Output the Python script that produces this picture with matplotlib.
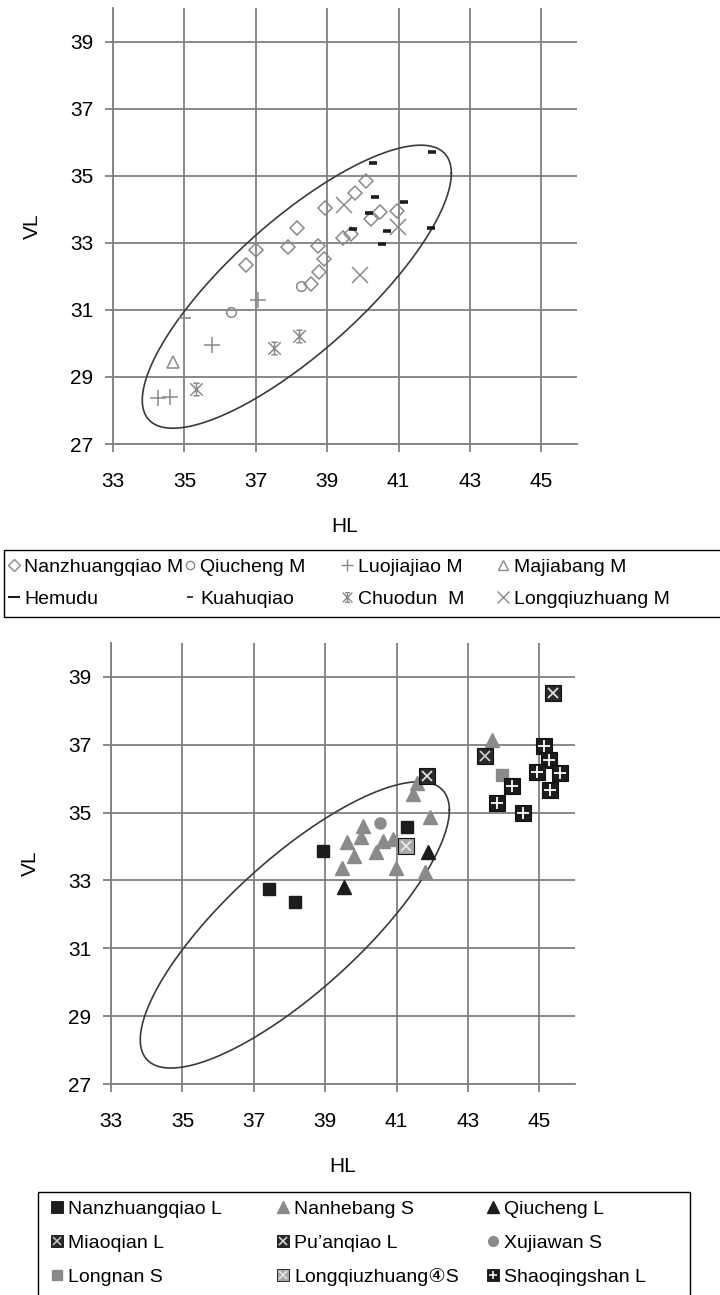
import numpy as np
import matplotlib
matplotlib.use('Agg')
import matplotlib.pyplot as plt
from matplotlib.lines import Line2D
from matplotlib.path import Path
from matplotlib.patches import Rectangle

plt.rcParams['font.family'] = ['Liberation Sans', 'DejaVu Sans']

# ellipse drawn in both panels: centre, half ranges (x, y), phase between x and y (deg)
ell_center = (38.15, 31.69)
ell_half = (4.33, 4.22)
ell_phase = 36.7

# ---- top panel (M) ----
nzq_m_x = [36.74, 37.0, 38.15, 37.91, 38.94, 38.73, 38.9, 38.77, 38.55, 40.09, 39.78, 40.48, 40.96, 40.23, 39.68, 39.43]
nzq_m_y = [32.34, 32.78, 33.43, 32.88, 34.03, 32.9, 32.53, 32.14, 31.77, 34.85, 34.47, 33.92, 33.95, 33.7, 33.26, 33.13]
qc_m_x = [38.27, 36.32]
qc_m_y = [31.72, 30.94]
ljj_m_x = [37.07, 35.76, 34.27, 34.6]
ljj_m_y = [31.29, 29.95, 28.36, 28.41]
mjb_m_x = [34.69]
mjb_m_y = [29.45]
hmd_x = [40.29, 41.95, 40.34, 41.16, 40.18, 39.73, 40.68, 40.55, 41.91]
hmd_y = [35.37, 35.7, 34.37, 34.22, 33.9, 33.4, 33.35, 32.95, 33.43]
khq_x = [35.02]
khq_y = [30.75]
cd_m_x = [37.52, 38.22, 35.32]
cd_m_y = [29.85, 30.22, 28.63]
lqz_m_x = [39.48, 40.99, 39.92]
lqz_m_y = [34.12, 33.46, 32.04]

# ---- bottom panel (L / S) ----
nzq_l_x = [41.3, 38.93, 37.43, 38.15]
nzq_l_y = [34.57, 33.88, 32.74, 32.36]
nhb_s_x = [43.67, 41.56, 41.45, 41.95, 40.05, 40.0, 39.6, 40.61, 40.91, 39.8, 40.42, 39.46, 40.98, 41.8]
nhb_s_y = [37.15, 35.87, 35.55, 34.86, 34.61, 34.28, 34.13, 34.17, 34.22, 33.73, 33.84, 33.37, 33.37, 33.26]
qc_l_x = [41.89, 39.52]
qc_l_y = [33.85, 32.8]
mq_l_x = [43.48]
mq_l_y = [36.66]
paq_l_x = [41.84, 45.38]
paq_l_y = [36.07, 38.52]
xjw_s_x = [40.53]
xjw_s_y = [34.69]
ln_s_x = [43.95]
ln_s_y = [36.12]
lqz_s_x = [41.26]
lqz_s_y = [34.02]
sqs_l_x = [45.12, 45.26, 44.93, 45.58, 45.29, 44.23, 43.81, 44.55]
sqs_l_y = [36.97, 36.56, 36.21, 36.16, 35.67, 35.77, 35.28, 34.99]

xticks = [33, 35, 37, 39, 41, 43, 45]
yticks = [27, 29, 31, 33, 35, 37, 39]

GRAY = '#8a8a8a'
DARK = '#1c1c1c'
GRID = '#808080'

# excel style "star" marker (x with a vertical bar and end caps)
star = Path([(-1, -1), (1, 1), (-1, 1), (1, -1), (0, -1), (0, 1),
             (-0.5, 1), (0.5, 1), (-0.5, -1), (0.5, -1)],
            [Path.MOVETO, Path.LINETO] * 5)

W, H = 720, 1295
fig = plt.figure(figsize=(7.2, 12.95), dpi=100)
ax1 = fig.add_axes([113 / W, 1 - 444 / H, 464 / W, 436 / H])
ax2 = fig.add_axes([111 / W, 1 - 1084 / H, 464 / W, 441 / H])

t = np.linspace(0, 2 * np.pi, 400)
ex = ell_center[0] + ell_half[0] * np.cos(t)
ey = ell_center[1] + ell_half[1] * np.cos(t + np.radians(ell_phase))

for ax in (ax1, ax2):
    ax.set_xlim(33, 46)
    ax.set_ylim(27, 40)
    ax.set_xticks(xticks)
    ax.set_yticks(yticks)
    ax.grid(True, color=GRID, lw=1.3)
    ax.set_axisbelow(True)
    for s in ('top', 'right'):
        ax.spines[s].set_visible(False)
    for s in ('left', 'bottom'):
        ax.spines[s].set_color(GRID)
        ax.spines[s].set_linewidth(1.3)
    ax.tick_params(direction='out', length=6, width=1.3, color=GRID,
                   labelsize=15, pad=8)
    ax.tick_params(axis='x', pad=14)
    ax.plot(ex, ey, color='#3a3a3a', lw=1.2, zorder=2)
    ax.set_xlabel('HL', fontsize=15, labelpad=19)
    ax.set_ylabel('VL', fontsize=15)
    ax.yaxis.set_label_coords(-0.153, 0.5)

# top panel markers
open_kw = dict(ls='none', mfc='none', mec=GRAY, mew=1.1, zorder=3)
ax1.plot(nzq_m_x, nzq_m_y, marker='D', ms=7, **open_kw)
ax1.plot(qc_m_x, qc_m_y, marker='o', ms=7, **open_kw)
ax1.plot(ljj_m_x, ljj_m_y, marker='+', ms=11, **open_kw)
ax1.plot(mjb_m_x, mjb_m_y, marker='^', ms=9, **open_kw)
ax1.plot(hmd_x, hmd_y, ls='none', marker='_', ms=6, mec=DARK, mew=2.6, zorder=3)
ax1.plot(khq_x, khq_y, ls='none', marker='_', ms=9, mec=GRAY, mew=1.2, zorder=3)
ax1.plot(cd_m_x, cd_m_y, marker=star, ms=9, **open_kw)
ax1.plot(lqz_m_x, lqz_m_y, marker='x', ms=11, **open_kw)

# bottom panel markers
def sq_overlay(ax, x, y, face, mark, mcol, ms=10):
    ax.plot(x, y, ls='none', marker='s', ms=ms, mfc=face, mec='#111111', mew=0.8, zorder=3)
    ax.plot(x, y, ls='none', marker=mark, ms=ms * 0.7, mec=mcol, mew=1.3, zorder=4)

ax2.plot(nzq_l_x, nzq_l_y, ls='none', marker='s', ms=9, mfc=DARK, mec=DARK, zorder=3)
ax2.plot(nhb_s_x, nhb_s_y, ls='none', marker='^', ms=10, mfc=GRAY, mec=GRAY, zorder=3)
ax2.plot(qc_l_x, qc_l_y, ls='none', marker='^', ms=10, mfc=DARK, mec=DARK, zorder=3)
ax2.plot(xjw_s_x, xjw_s_y, ls='none', marker='o', ms=8, mfc=GRAY, mec=GRAY, zorder=3)
ax2.plot(ln_s_x, ln_s_y, ls='none', marker='s', ms=8, mfc=GRAY, mec=GRAY, zorder=3)
sq_overlay(ax2, mq_l_x, mq_l_y, '#2a2a2a', 'x', '#c8c8c8', ms=11)
sq_overlay(ax2, paq_l_x, paq_l_y, '#2a2a2a', 'x', '#e0e0e0', ms=11)
sq_overlay(ax2, lqz_s_x, lqz_s_y, '#a8a8a8', 'x', '#e8e8e8', ms=11)
sq_overlay(ax2, sqs_l_x, sqs_l_y, '#1c1c1c', '+', 'white', ms=12)


# legends: a framed box with one frameless legend per column (excel-like fixed columns)
def legend_box(x0, y0, x1, y1):
    fig.add_artist(Rectangle((x0 / W, 1 - y1 / H), (x1 - x0) / W, (y1 - y0) / H,
                             transform=fig.transFigure, fill=False,
                             ec='black', lw=1.0, clip_on=False))


def legend_col(handles, labels, x, y, hl, spacing):
    fig.legend(handles, labels, loc='upper left', bbox_to_anchor=(x / W, 1 - y / H),
               fontsize=14, frameon=False, handlelength=hl, handletextpad=0.2,
               borderpad=0, borderaxespad=0, labelspacing=spacing)


def mk(marker, ms, mec=GRAY, mfc='none', mew=1.0):
    return Line2D([], [], ls='none', marker=marker, ms=ms, mec=mec, mfc=mfc, mew=mew)


legend_box(4, 550, 730, 617)
top_cols = [
    ([mk('D', 6), mk('_', 8, mec=DARK, mew=1.5)], ['Nanzhuangqiao M', 'Hemudu'], 7),
    ([mk('o', 6), mk('_', 5, mec=DARK, mew=1.2)], ['Qiucheng M', 'Kuahuqiao'], 183),
    ([mk('+', 9), mk(star, 7)], ['Luojiajiao M', 'Chuodun  M'], 340),
    ([mk('^', 7), mk('x', 8)], ['Majiabang M', 'Longqiuzhuang M'], 496),
]
for hs, ls_, x in top_cols:
    legend_col(hs, ls_, x, 558, 0.7, 0.75)


def sq(face, mark=None, mcol='white'):
    base = Line2D([], [], ls='none', marker='s', ms=9, mfc=face, mec='#111111', mew=0.6)
    if mark is None:
        return base
    return (base, Line2D([], [], ls='none', marker=mark, ms=6, mec=mcol, mew=1.1))


legend_box(38, 1192, 690, 1300)
bot_cols = [
    ([sq(DARK), sq('#2a2a2a', 'x', '#c8c8c8'), mk('s', 7, mec=GRAY, mfc=GRAY)],
     ['Nanzhuangqiao L', 'Miaoqian L', 'Longnan S'], 49),
    ([mk('^', 8, mec=GRAY, mfc=GRAY), sq('#2a2a2a', 'x', '#e0e0e0'), sq('#a8a8a8', 'x', '#e8e8e8')],
     ['Nanhebang S', 'Pu\u2019anqiao L', 'Longqiuzhuang\u2463S'], 275),
    ([mk('^', 8, mec=DARK, mfc=DARK), mk('o', 7, mec=GRAY, mfc=GRAY), sq(DARK, '+')],
     ['Qiucheng L', 'Xujiawan S', 'Shaoqingshan L'], 485),
]
for hs, ls_, x in bot_cols:
    legend_col(hs, ls_, x, 1200, 0.8, 0.85)

fig.savefig('out.png', dpi=100)
